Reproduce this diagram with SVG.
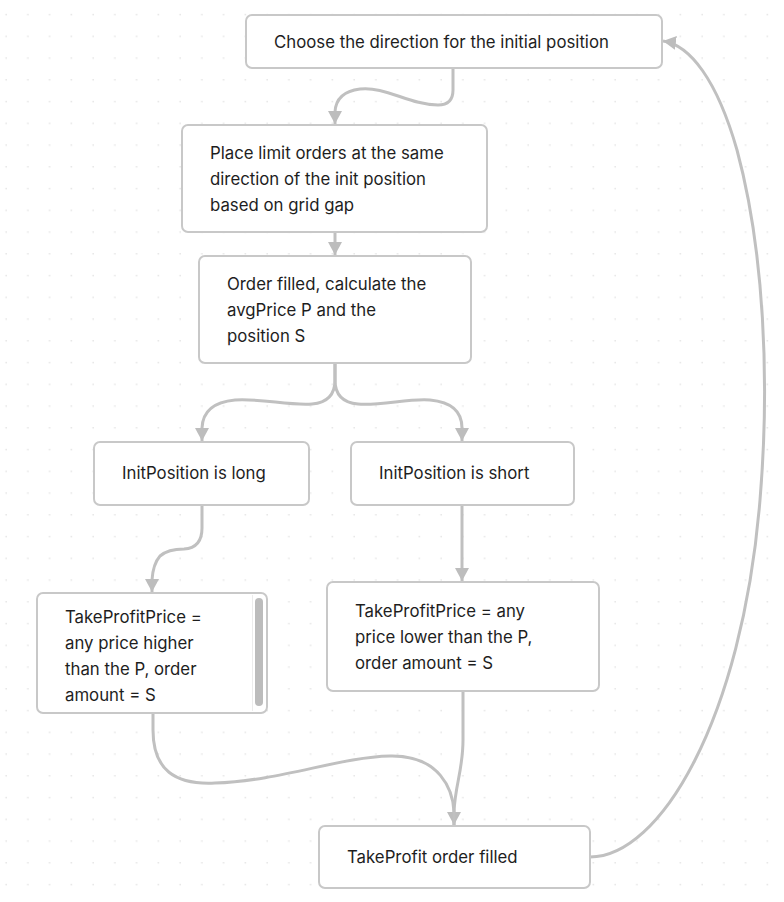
<svg xmlns="http://www.w3.org/2000/svg" width="784" height="902" viewBox="0 0 784 902">
<style>
.box{fill:#ffffff;stroke:#c8c8c8;stroke-width:2}
.t{font-family:Inter,"Noto Sans","Liberation Sans",sans-serif;font-size:16.8px;fill:#1e1e1e}
.c{fill:none;stroke:#c0c0c0;stroke-width:3}
</style>
<defs>
<pattern id="dots" x="0" y="0" width="21.75" height="21.75" patternUnits="userSpaceOnUse">
<rect x="5.5" y="14" width="1.2" height="1.2" fill="#d6d6d6"/>
</pattern>
<marker id="arr" markerUnits="userSpaceOnUse" markerWidth="14" markerHeight="14" viewBox="0 0 14 14" refX="13" refY="7" orient="auto">
<path d="M0,0 L13,7 L0,14 z" fill="#bdbdbd"/>
</marker>
</defs>
<rect width="784" height="902" fill="#ffffff"/>
<rect width="784" height="902" fill="url(#dots)"/>
<g id="connectors">
<path class="c" d="M453 68 V90 Q453 105 438 105 C410 105 385 86 360 89 Q336 92 335 112 L335 124" marker-end="url(#arr)"/>
<path class="c" d="M335 232 V255" marker-end="url(#arr)"/>
<path class="c" d="M335 363 V380 Q335 402 312 404 C290 406 260 398 235 400 Q203 403 202 428 L202 441" marker-end="url(#arr)"/>
<path class="c" d="M335 363 V380 Q335 402 358 404 C380 406 410 398 430 400 Q462 403 462 428 L462 441" marker-end="url(#arr)"/>
<path class="c" d="M202 505 V528 Q202 548 184 549 Q168 549 160 556 Q153 564 152 580 L152 592" marker-end="url(#arr)"/>
<path class="c" d="M462 505 V581" marker-end="url(#arr)"/>
<path class="c" d="M153 713 V730 C153 770 175 785 215 783 C280 781 340 757 390 756 C440 755 453 790 454 812 L454 825" marker-end="url(#arr)"/>
<path class="c" d="M463 691 V740 C463 770 455 785 454 812 L454 825"/>
<path class="c" d="M590 857 C660 857 742 720 760 500 C770 380 764 250 737 150 C717 80 690 45 663 41" marker-end="url(#arr)"/>
</g>
<g id="n1">
<rect class="box" x="246" y="15" width="416" height="53" rx="6"/>
<text class="t" x="274" y="48">Choose the direction for the initial position</text>
</g>
<g id="n2">
<rect class="box" x="182" y="125" width="305" height="107" rx="6"/>
<text class="t" x="210" y="159">Place limit orders at the same</text>
<text class="t" x="210" y="185">direction of the init position</text>
<text class="t" x="210" y="211">based on grid gap</text>
</g>
<g id="n3">
<rect class="box" x="199" y="256" width="272" height="107" rx="6"/>
<text class="t" x="227" y="290">Order filled, calculate the</text>
<text class="t" x="227" y="316">avgPrice P and the</text>
<text class="t" x="227" y="342">position S</text>
</g>
<g id="n4">
<rect class="box" x="94" y="442" width="215" height="63" rx="6"/>
<text class="t" x="122" y="479">InitPosition is long</text>
</g>
<g id="n5">
<rect class="box" x="351" y="442" width="223" height="63" rx="6"/>
<text class="t" x="379" y="479">InitPosition is short</text>
</g>
<g id="n6">
<rect class="box" x="37" y="593" width="230" height="120" rx="6"/>
<line x1="252.5" y1="595" x2="252.5" y2="711" stroke="#ececec" stroke-width="1"/>
<rect x="255" y="598" width="8" height="108" rx="4" fill="#bcbcbc"/>
<text class="t" x="65" y="623">TakeProfitPrice =</text>
<text class="t" x="65" y="649">any price higher</text>
<text class="t" x="65" y="675">than the P, order</text>
<text class="t" x="65" y="701">amount = S</text>
</g>
<g id="n7">
<rect class="box" x="327" y="582" width="272" height="109" rx="6"/>
<text class="t" x="355" y="617">TakeProfitPrice = any</text>
<text class="t" x="355" y="643">price lower than the P,</text>
<text class="t" x="355" y="669">order amount = S</text>
</g>
<g id="n8">
<rect class="box" x="319" y="826" width="271" height="62" rx="6"/>
<text class="t" x="347" y="863">TakeProfit order filled</text>
</g>
</svg>
